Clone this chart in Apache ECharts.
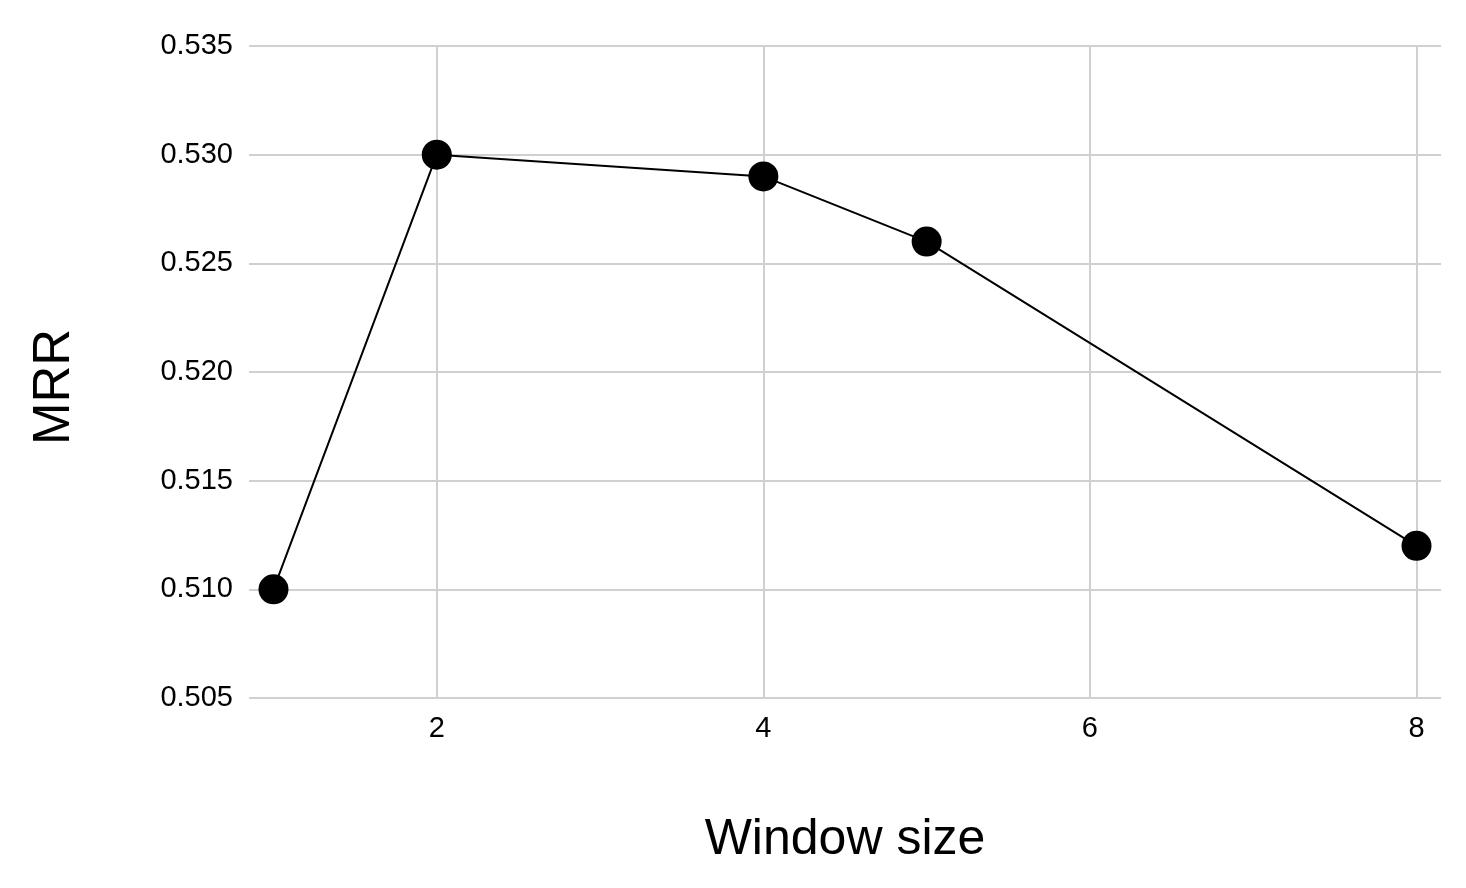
<!DOCTYPE html>
<html>
<head>
<meta charset="utf-8">
<script src="https://cdn.jsdelivr.net/npm/echarts@6/dist/echarts.min.js"></script>
<style>html,body{margin:0;padding:0;background:#fff}#c{width:1466px;height:888px}</style>
</head>
<body>
<div id="c"></div>
<script>
const windowSizes = [1, 2, 4, 5, 8];
const mrrValues = [0.510, 0.530, 0.529, 0.526, 0.512];
const xTicks = [2, 4, 6, 8];
const yTicks = [0.505, 0.510, 0.515, 0.520, 0.525, 0.530, 0.535];
const xTitle = 'Window size';
const yTitle = 'MRR';

const font = '"Liberation Sans", Arial, Helvetica, sans-serif';
const chart = echarts.init(document.getElementById('c'));
chart.setOption({
  animation: false,
  backgroundColor: '#fff',
  grid: { left: 249, right: 25, top: 46, bottom: 190, containLabel: false },
  xAxis: {
    type: 'value', min: 0.85, max: 8.15,
    axisLine: { show: false }, axisTick: { show: false, customValues: xTicks },
    axisLabel: { customValues: xTicks, color: '#000', fontSize: 29, fontFamily: font, margin: 16 },
    splitLine: { show: true, lineStyle: { color: '#d0d0d0', width: 2 } }
  },
  yAxis: {
    type: 'value', min: yTicks[0], max: yTicks[yTicks.length - 1], interval: 0.005,
    axisLine: { show: false }, axisTick: { show: false },
    axisLabel: { color: '#000', fontSize: 29, fontFamily: font, margin: 16,
      formatter: v => v.toFixed(3) },
    splitLine: { show: true, lineStyle: { color: '#d0d0d0', width: 2 } }
  },
  graphic: [
    { type: 'text', x: 845, y: 840, style: { text: xTitle, fontSize: 50, fontFamily: font, fill: '#000', align: 'center', verticalAlign: 'middle' } },
    { type: 'text', x: 55, y: 387, rotation: Math.PI / 2, style: { text: yTitle, fontSize: 51, fontFamily: font, fill: '#000', align: 'center', verticalAlign: 'middle' } }
  ],
  series: [{
    type: 'line',
    data: windowSizes.map((x, i) => [x, mrrValues[i]]),
    symbol: 'circle', symbolSize: 30,
    lineStyle: { color: '#000', width: 2 },
    itemStyle: { color: '#000' }
  }]
});
</script>
</body>
</html>
